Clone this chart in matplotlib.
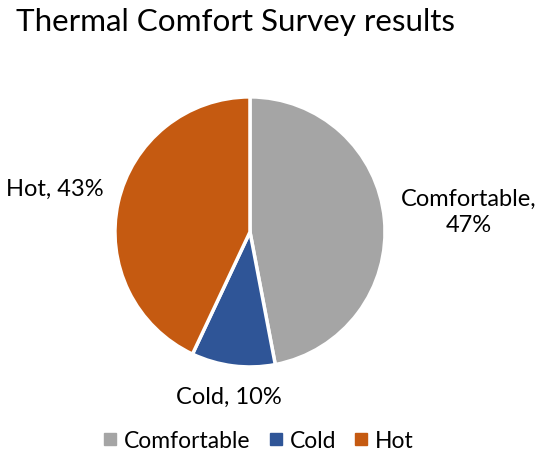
import matplotlib

matplotlib.use("Agg")
import matplotlib.pyplot as plt
import numpy as np
from matplotlib.lines import Line2D

plt.rcParams["font.family"] = ["Lato", "DejaVu Sans"]

categories = ["Comfortable", "Cold", "Hot"]
shares = [47, 10, 43]
colors = ["#A5A5A5", "#2F5597", "#C55A11"]
label_texts = ["Comfortable,\n47%", "Cold, 10%", "Hot, 43%"]
label_dist = [1.63, 1.23, 1.48]

fig = plt.figure(figsize=(5.5, 4.64), dpi=100)
ax = fig.add_axes([0.209, 0.207, 0.491, 0.582])
wedges, _ = ax.pie(
    shares,
    colors=colors,
    startangle=90,
    counterclock=False,
    wedgeprops=dict(edgecolor="white", linewidth=2.5),
)
ax.set_xlim(-1, 1)
ax.set_ylim(-1, 1)
ax.set_aspect("equal")

for wedge, text, dist in zip(wedges, label_texts, label_dist):
    mid = np.deg2rad((wedge.theta1 + wedge.theta2) / 2)
    ax.text(dist * np.cos(mid), dist * np.sin(mid), text,
            ha="center", va="center", fontsize=17, color="#000000",
            linespacing=1.3)

fig.text(0.03, 0.952, "Thermal Comfort Survey results", fontsize=22.6,
         ha="left", va="center", color="#000000")

handles = [Line2D([], [], marker="s", linestyle="", markersize=8,
                  markerfacecolor=c, markeredgecolor=c) for c in colors]
fig.legend(handles, categories, loc="center", bbox_to_anchor=(0.468, 0.048),
           ncol=3, frameon=False, fontsize=16.5, handletextpad=0.2,
           columnspacing=0.7, handlelength=0.8)

fig.savefig("out.png", dpi=100)
